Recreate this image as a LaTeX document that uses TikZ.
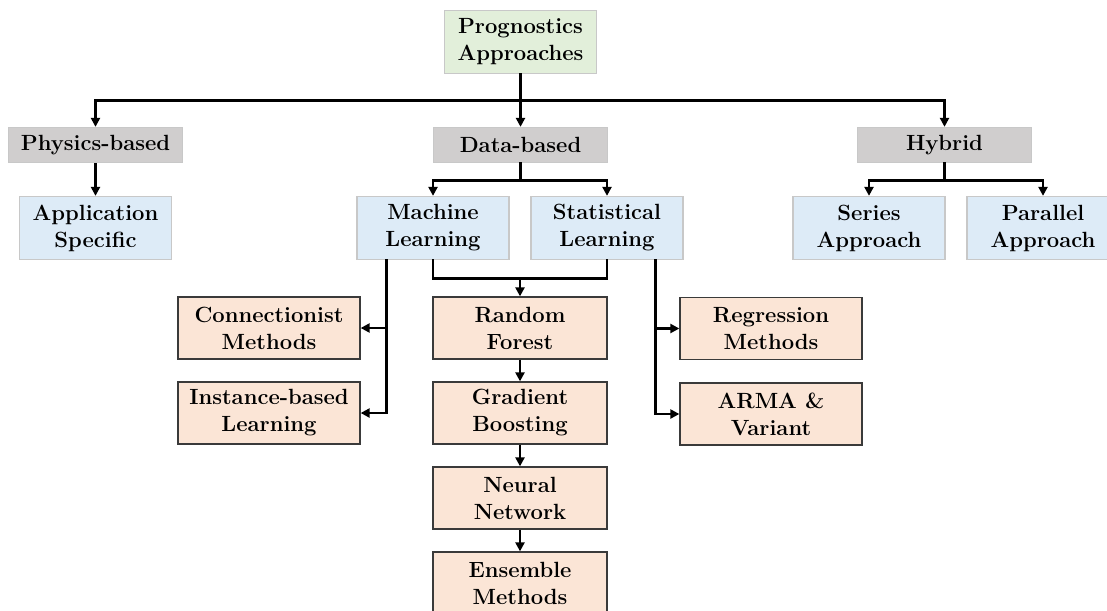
\documentclass[tikz,border=0pt]{standalone}
\usepackage{fontspec}
\usetikzlibrary{arrows.meta,calc}
\definecolor{rootfill}{HTML}{E2EFDA}
\definecolor{catfill}{HTML}{D0CECE}
\definecolor{subfill}{HTML}{DDEBF7}
\definecolor{methfill}{HTML}{FBE5D6}
\definecolor{lightedge}{HTML}{C8C8C8}
\definecolor{darkedge}{HTML}{3A3A3A}
\tikzset{
  base/.style={rectangle, align=center, inner sep=0pt, line width=1.3pt,
    font=\fontsize{22}{27}\selectfont\bfseries},
  rootbox/.style={base, draw=lightedge, fill=rootfill, minimum width=152pt, minimum height=63pt},
  catbox/.style={base, draw=lightedge, fill=catfill, minimum width=174pt, minimum height=35pt},
  subbox/.style={base, draw=lightedge, fill=subfill, minimum width=152pt, minimum height=63pt},
  methbox/.style={base, draw=darkedge, fill=methfill, minimum width=174pt, minimum height=62pt},
  widebox/.style={methbox, minimum width=182pt},
  link/.style={line width=2.8pt, line cap=rect},
  arr/.style={line width=2.8pt, -{Triangle[length=9pt,width=9pt]}},
}
\begin{document}
\begin{tikzpicture}[x=1pt,y=-1pt]
\useasboundingbox (0,0) rectangle (1107,610);

% top level
\node[rootbox] (prog) at (520.5,42) {Prognostics\\Approaches};
\node[catbox] (phys) at (95.5,145) {Physics-based};
\node[catbox] (data) at (520.5,145) {Data-based};
\node[catbox] (hyb) at (944.5,145) {Hybrid};

% second level
\node[subbox] (app) at (95.5,228) {Application\\Specific};
\node[subbox] (ml) at (433,228) {Machine\\Learning};
\node[subbox] (stat) at (607,228) {Statistical\\Learning};
\node[subbox] (ser) at (869,228) {Series\\Approach};
\node[subbox] (par) at (1043,228) {Parallel\\Approach};

% method level
\node[widebox] (conn) at (269,328) {Connectionist\\Methods};
\node[widebox] (inst) at (269,413) {Instance-based\\Learning};
\node[methbox] (rf) at (520,328) {Random\\Forest};
\node[methbox] (gb) at (520,413) {Gradient\\Boosting};
\node[methbox] (nn) at (520,498) {Neural\\Network};
\node[methbox] (ens) at (520,583) {Ensemble\\Methods};
\node[widebox] (reg) at (771,328.5) {Regression\\Methods};
\node[widebox] (arma) at (771,414) {ARMA \&\\Variant};

% root to categories
\coordinate (j0) at ($(prog.south)+(0,26)$);
\draw[link] (prog.south) -- (j0);
\draw[arr] (j0) -| (phys.north);
\draw[arr] (j0) -| (hyb.north);
\draw[arr] (j0) -- (data.north);

\draw[arr] (phys.south) -- (app.north);

% data-based split
\coordinate (j1) at ($(data.south)+(0,17.5)$);
\draw[link] (data.south) -- (j1);
\draw[arr] (j1) -| (ml.north);
\draw[arr] (j1) -| (stat.north);

% hybrid split
\coordinate (j2) at ($(hyb.south)+(0,17.5)$);
\draw[link] (hyb.south) -- (j2);
\draw[arr] (j2) -| (ser.north);
\draw[arr] (j2) -| (par.north);

% machine learning branch
\coordinate (mlb) at ($(ml.south west)+(30.5,0)$);
\coordinate (mlc) at (mlb |- inst.east);
\draw[link] (mlb) -- (mlc);
\draw[arr] (mlb |- conn.east) -- (conn.east);
\draw[arr] (mlc) -- (inst.east);

% shared branch of both learning families
\coordinate (ja) at ($(ml.south)+(0,18)$);
\coordinate (jb) at (stat.south |- ja);
\draw[link] (ml.south) -- (ja) -- (jb) -- (stat.south);
\draw[arr] (rf.north |- ja) -- (rf.north);
\draw[arr] (rf.south) -- (gb.north);
\draw[arr] (gb.south) -- (nn.north);
\draw[arr] (nn.south) -- (ens.north);

% statistical learning branch
\coordinate (stb) at ($(stat.south east)+(-28,0)$);
\coordinate (stc) at (stb |- arma.west);
\draw[link] (stb) -- (stc);
\draw[arr] (stb |- reg.west) -- (reg.west);
\draw[arr] (stc) -- (arma.west);
\end{tikzpicture}
\end{document}
